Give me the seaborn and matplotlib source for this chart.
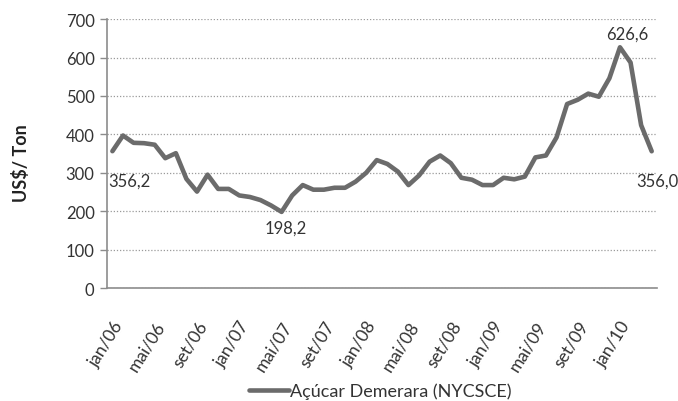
import matplotlib
matplotlib.use("Agg")
import matplotlib.pyplot as plt
import matplotlib.transforms as mtransforms
import seaborn as sns
import numpy as np
import pandas as pd

months = ["jan", "fev", "mar", "abr", "mai", "jun", "jul", "ago", "set", "out", "nov", "dez"]
years = ["06", "07", "08", "09", "10"]
categories = [f"{m}/{y}" for y in years for m in months][:52]

values = [356.2, 397, 378, 377, 373, 338, 351, 284, 251, 295,
          258, 258, 241, 237, 229, 215, 198.2, 241, 268, 256,
          256, 261, 261, 277, 300, 333, 323, 303, 268, 293,
          329, 345, 325, 287, 282, 268, 268, 287, 283, 290,
          340, 345, 392, 479, 490, 506, 498, 546, 626.6, 587,
          424, 356.0]

series_name = "Açúcar Demerara (NYCSCE)"
yticks = [0, 100, 200, 300, 400, 500, 600, 700]

df = pd.DataFrame({"idx": np.arange(len(values)), "mes": categories, "valor": values})

sns.set_style("white")
plt.rcParams["font.family"] = ["Lato", "DejaVu Sans"]

fig = plt.figure(figsize=(6.78, 4.02), dpi=100)
ax = fig.add_axes([0.158, 0.281, 0.811, 0.669])

line_color = "#6b6b6b"
sns.lineplot(data=df, x="idx", y="valor", ax=ax, color=line_color, linewidth=3.3,
             label=series_name, legend=False)

ax.set_xlim(-0.5, len(values) - 0.5)
ax.set_ylim(0, 700)
ax.set_yticks(yticks)
ax.set_yticklabels([str(v) for v in yticks], fontsize=12, color="#333333")
tick_pos = list(range(0, len(values), 4))
ax.set_xticks(tick_pos)
ax.set_xticklabels([categories[i] for i in tick_pos], rotation=58, ha="right", va="top",
                   rotation_mode="anchor", fontsize=12.5, color="#333333")
offset = mtransforms.ScaledTranslation(0.03, 0, fig.dpi_scale_trans)
for lab in ax.get_xticklabels():
    lab.set_transform(lab.get_transform() + offset)

ax.grid(axis="y", linestyle=(0, (1, 1.5)), color="#9a9a9a", linewidth=0.9)
ax.set_axisbelow(True)
for s in ["top", "right"]:
    ax.spines[s].set_visible(False)
for s in ["left", "bottom"]:
    ax.spines[s].set_color("#8c8c8c")
    ax.spines[s].set_linewidth(1.2)
ax.tick_params(axis="y", which="major", left=True, length=5, width=1.0, color="#8c8c8c", pad=4)
ax.tick_params(axis="x", which="major", bottom=False, pad=18)

ax.set_xlabel("")
ax.set_ylabel("")
fig.text(21 / 678, 1 - 163 / 402, "US$/ Ton", rotation=90, ha="center", va="center",
         fontsize=13, fontweight="bold", color="#222222")

# data labels (offsets in points)
ann = [(0, "356,2", 1.6, -21), (16, "198,2", 0.4, -11), (48, "626,6", 0.7, 9.5), (51, "356,0", 0.5, -21.5)]
for i, txt, dx, dy in ann:
    ax.annotate(txt, xy=(i + dx, values[i]), xytext=(0, dy), textcoords="offset points",
                ha="center", va="center", fontsize=12, color="#333333", annotation_clip=False)

handles, labels = ax.get_legend_handles_labels()
fig.legend(handles, labels, loc="center", bbox_to_anchor=(380 / 678, 1 - 392 / 402),
           frameon=False, fontsize=13, handlelength=2.2, handletextpad=0.05,
           labelcolor="#333333")

fig.savefig("out.png", dpi=100)
